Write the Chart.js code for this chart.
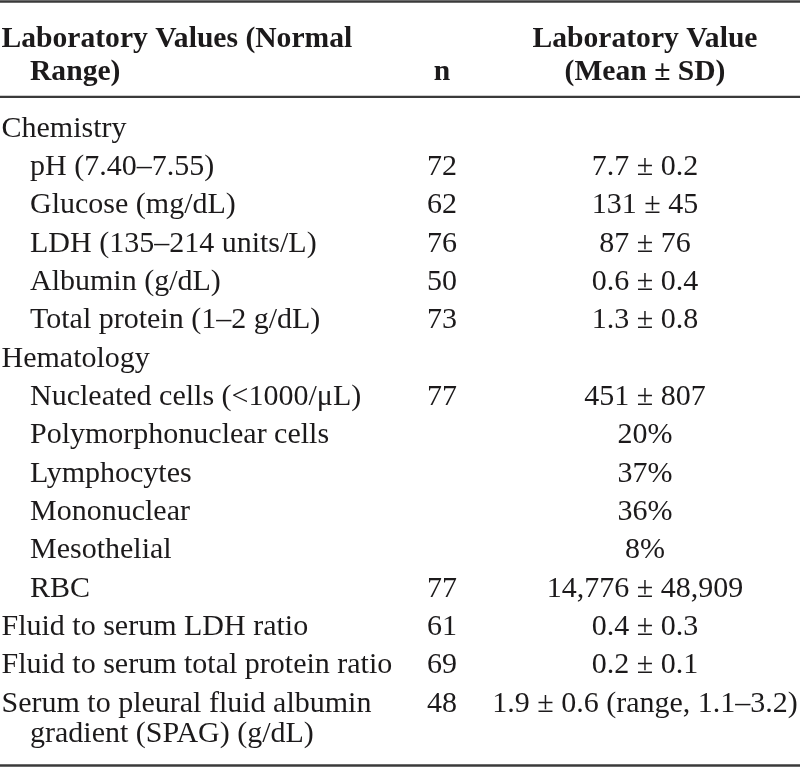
<!DOCTYPE html>
<html>
<head>
<meta charset="utf-8">
<script src="https://cdn.jsdelivr.net/npm/chart.js@4/dist/chart.umd.min.js"></script>
<style>
    html, body { margin: 0; padding: 0; background: #fff; }
    #wrap { width: 800px; height: 770px; }
</style>
</head>
<body>
<div id="wrap"><canvas id="chart" width="800" height="770"></canvas></div>
<script>
// TABLE DATA
const headerLabel = ['Laboratory Values (Normal', 'Range)'];
const headerN = ['', 'n'];
const headerValue = ['Laboratory Value', '(Mean ± SD)'];

const rowLabels = [
    'Chemistry',
    'pH (7.40–7.55)',
    'Glucose (mg/dL)',
    'LDH (135–214 units/L)',
    'Albumin (g/dL)',
    'Total protein (1–2 g/dL)',
    'Hematology',
    'Nucleated cells (<1000/μL)',
    'Polymorphonuclear cells',
    'Lymphocytes',
    'Mononuclear',
    'Mesothelial',
    'RBC',
    'Fluid to serum LDH ratio',
    'Fluid to serum total protein ratio',
    'Serum to pleural fluid albumin',
    'gradient (SPAG) (g/dL)'
];
// rows that sit under a group heading (or continue a wrapped label)
const subRows = [1, 2, 3, 4, 5, 7, 8, 9, 10, 11, 12, 16];
// second line of a wrapped label
const wrapRows = [16];

const nValues = ['', '72', '62', '76', '50', '73', '', '77', '', '', '', '', '77', '61', '69', '48', ''];

const meanValues = [
    '', '7.7 ± 0.2', '131 ± 45', '87 ± 76', '0.6 ± 0.4', '1.3 ± 0.8',
    '', '451 ± 807', '20%', '37%', '36%', '8%', '14,776 ± 48,909',
    '0.4 ± 0.3', '0.2 ± 0.1', '1.9 ± 0.6 (range, 1.1–3.2)', ''
];

// LAYOUT (x in px, y in row units)
const COL = {left: 1.5, indent: 30, n: 442, value: 645};
const HEADER_Y = [-2.348, -1.479];
const WRAP_STEP = 0.78;
const RULES = [{y: -3.527, w: 2.6}, {y: -1.036, w: 2.2}, {y: 16.405, w: 2.6}];
const Y_MIN = -3.566;
const Y_MAX = 16.523;

const FONT = '30px "Liberation Serif", "Times New Roman", serif';
const FONT_BOLD = 'bold 29.6px "Liberation Serif", "Times New Roman", serif';
const INK = '#1c1a1b';

// y position of each body line: full step per row, short step for wrapped lines
const rowY = [];
rowLabels.forEach((t, i) => {
    if (i === 0) rowY.push(0);
    else rowY.push(rowY[i - 1] + (wrapRows.includes(i) ? WRAP_STEP : 1));
});

function cellPoints(texts, xFn, yFn) {
    return texts.map((t, i) => ({x: xFn(i), y: yFn(i)}));
}

const datasets = [
    {
        texts: headerLabel, font: FONT_BOLD, align: 'left',
        data: cellPoints(headerLabel, i => i === 0 ? COL.left : COL.indent, i => HEADER_Y[i])
    },
    {
        texts: headerN, font: FONT_BOLD, align: 'center',
        data: cellPoints(headerN, () => COL.n, i => HEADER_Y[i])
    },
    {
        texts: headerValue, font: FONT_BOLD, align: 'center',
        data: cellPoints(headerValue, () => COL.value, i => HEADER_Y[i])
    },
    {
        texts: rowLabels, font: FONT, align: 'left',
        data: cellPoints(rowLabels, i => subRows.includes(i) ? COL.indent : COL.left, i => rowY[i])
    },
    {
        texts: nValues, font: FONT, align: 'center',
        data: cellPoints(nValues, () => COL.n, i => rowY[i])
    },
    {
        texts: meanValues, font: FONT, align: 'center',
        data: cellPoints(meanValues, () => COL.value, i => rowY[i])
    }
];

// draws rules and cell text at the points placed by the scales
const tablePlugin = {
    id: 'tableText',
    afterDatasetsDraw(chart) {
        const ctx = chart.ctx;
        const xs = chart.scales.x;
        const ys = chart.scales.y;
        ctx.save();
        ctx.strokeStyle = '#3a3a3a';
        RULES.forEach(r => {
            const py = ys.getPixelForValue(r.y);
            ctx.lineWidth = r.w;
            ctx.beginPath();
            ctx.moveTo(xs.getPixelForValue(0), py);
            ctx.lineTo(xs.getPixelForValue(800), py);
            ctx.stroke();
        });
        ctx.fillStyle = INK;
        ctx.textBaseline = 'alphabetic';
        chart.data.datasets.forEach((ds, i) => {
            const meta = chart.getDatasetMeta(i);
            ctx.font = ds.font;
            ctx.textAlign = ds.align;
            meta.data.forEach((pt, j) => {
                if (ds.texts[j]) {
                    ctx.fillText(ds.texts[j], pt.x, pt.y);
                }
            });
        });
        ctx.restore();
    }
};

new Chart(document.getElementById('chart').getContext('2d'), {
    type: 'scatter',
    data: {datasets: datasets},
    options: {
        responsive: false,
        animation: false,
        events: [],
        layout: {padding: 0},
        elements: {point: {radius: 0, hoverRadius: 0}},
        plugins: {legend: {display: false}, tooltip: {enabled: false}},
        scales: {
            x: {type: 'linear', min: 0, max: 800, display: false},
            y: {type: 'linear', min: Y_MIN, max: Y_MAX, reverse: true, display: false}
        }
    },
    plugins: [tablePlugin]
});
</script>
</body>
</html>
